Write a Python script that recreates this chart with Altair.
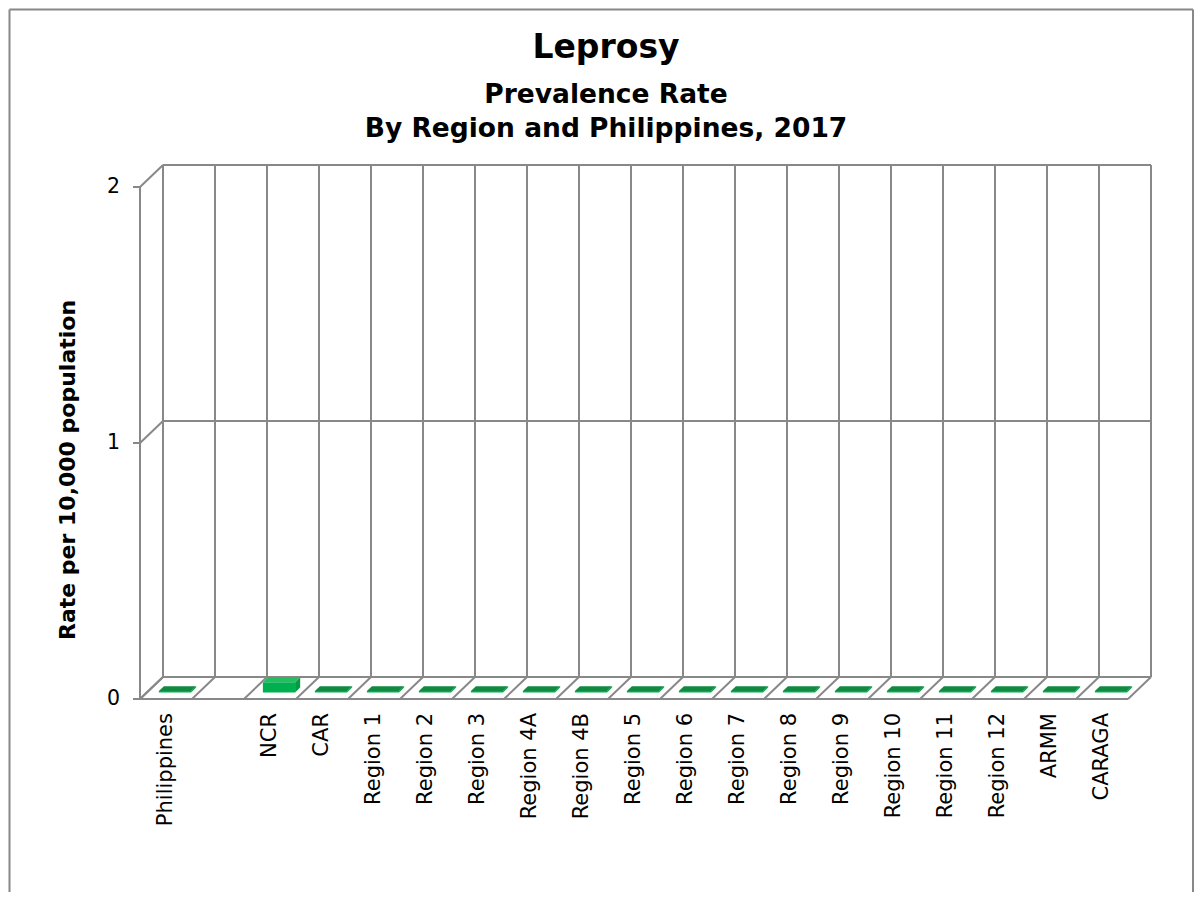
import altair as alt
import pandas as pd

# ---------------- data ----------------
categories = ["Philippines", "", "NCR", "CAR", "Region 1", "Region 2", "Region 3",
              "Region 4A", "Region 4B", "Region 5", "Region 6", "Region 7", "Region 8",
              "Region 9", "Region 10", "Region 11", "Region 12", "ARMM", "CARAGA"]
rates = [0.005, None, 0.04, 0.005, 0.005, 0.005, 0.005, 0.005, 0.005, 0.005,
         0.005, 0.005, 0.005, 0.005, 0.005, 0.005, 0.005, 0.005, 0.005]
y_ticks = [0, 1, 2]
title_lines = ["Leprosy", "Prevalence Rate", "By Region and Philippines, 2017"]
y_title = "Rate per 10,000 population"

# ---------------- geometry (3-D look) ----------------
N = len(categories)
YMAX = max(y_ticks)
CATW = 52.0          # px per category
PXU = 256.0          # px per unit of rate
DEPTH_X, DEPTH_Y = 23.0, 22.0
DX = DEPTH_X / CATW  # depth offset in category units
DY = DEPTH_Y / PXU   # depth offset in rate units
W = N * CATW + DEPTH_X
H = YMAX * PXU + DEPTH_Y
B0, B1 = 0.23, 0.85  # bar left/right inside category
F1, F2 = 0.30, 0.52  # bar front/back depth fraction

xs = alt.Scale(domain=[0, N + DX], nice=False, zero=False)
ys = alt.Scale(domain=[0, YMAX + DY], nice=False, zero=False)

GRID = "#888888"
FONT = "DejaVu Sans"

# ---------------- frame segments ----------------
segs = []
for i in range(N + 1):
    segs.append((i + DX, DY, i + DX, YMAX + DY))          # back wall verticals
    segs.append((i, 0, i + DX, DY))                        # floor diagonals
for t in y_ticks:
    segs.append((DX, t + DY, N + DX, t + DY))              # back wall gridlines
    segs.append((0, t, DX, t + DY))                        # side wall diagonals
segs.append((0, 0, 0, YMAX))                               # y axis line
segs.append((0, 0, N, 0))                                  # floor front edge
seg_df = pd.DataFrame(segs, columns=["x", "y", "x2", "y2"])

frame = alt.Chart(seg_df).mark_rule(color=GRID, strokeWidth=2).encode(
    x=alt.X("x:Q", scale=xs, axis=None),
    y=alt.Y("y:Q", scale=ys, axis=None),
    x2="x2:Q", y2="y2:Q",
)

# ---------------- bars ----------------
front_rows, top_rows, side_rows = [], [], []
for i, (c, v) in enumerate(zip(categories, rates)):
    if v is None:
        continue
    front_rows.append(dict(cat=c, v=v, x=i + B0 + F1 * DX, x2=i + B1 + F1 * DX,
                           y=F1 * DY, y2=v + F1 * DY))
    for f in (F1, F2):
        top_rows.append(dict(cat=c, v=v, y=v + f * DY, x=i + B0 + f * DX, x2=i + B1 + f * DX))
        side_rows.append(dict(cat=c, v=v, x=i + B1 + f * DX, y=f * DY, y2=v + f * DY))
front_df = pd.DataFrame(front_rows)
top_df = pd.DataFrame(top_rows)
side_df = pd.DataFrame(side_rows)

side = alt.Chart(side_df).mark_area(color="#069a44").encode(
    x=alt.X("x:Q", scale=xs, axis=None),
    y=alt.Y("y:Q", scale=ys, axis=None, stack=False),
    y2="y2:Q",
    detail="cat:N",
)
front = alt.Chart(front_df).mark_rect(color="#00b050").encode(
    x=alt.X("x:Q", scale=xs, axis=None),
    x2="x2:Q",
    y=alt.Y("y:Q", scale=ys, axis=None),
    y2="y2:Q",
)
top = alt.Chart(top_df).mark_area(orient="horizontal").encode(
    y=alt.Y("y:Q", scale=ys, axis=None),
    x=alt.X("x:Q", scale=xs, axis=None, stack=False),
    x2="x2:Q",
    detail="cat:N",
    color=alt.condition("datum.v > 0.02", alt.value("#22bf5e"), alt.value("#0f8a40")),
)

# ---------------- axis ticks and labels ----------------
tick_df = pd.DataFrame({"t": y_ticks})
ticks = alt.Chart(tick_df).mark_rule(color=GRID, strokeWidth=2).encode(
    x=alt.value(-7), x2=alt.value(0),
    y=alt.Y("t:Q", scale=ys, axis=None),
)
tick_labels = alt.Chart(tick_df).mark_text(
    font=FONT, fontSize=20.5, align="right", baseline="middle", dx=-20, color="black"
).encode(
    x=alt.value(0),
    y=alt.Y("t:Q", scale=ys, axis=None),
    text="t:Q",
)

cat_df = pd.DataFrame({"cat": categories, "pos": [i + 0.5 for i in range(N)]})
cat_labels = alt.Chart(cat_df).mark_text(
    font=FONT, fontSize=21, angle=270, align="right", baseline="middle", dx=-14, color="black"
).encode(
    x=alt.X("pos:Q", scale=xs, axis=None),
    y=alt.value(H),
    text="cat:N",
)

one = pd.DataFrame({"a": [0]})
ytitle = alt.Chart(one).mark_text(
    font=FONT, fontSize=22, fontWeight="bold", angle=270, align="center",
    baseline="alphabetic", color="black"
).encode(x=alt.value(-65), y=alt.value(305), text=alt.value(y_title))

t1 = alt.Chart(one).mark_text(font=FONT, fontSize=33, fontWeight="bold", align="center",
                              baseline="alphabetic", color="black").encode(
    x=alt.value(466), y=alt.value(-107), text=alt.value(title_lines[0]))
t2 = alt.Chart(one).mark_text(font=FONT, fontSize=26.5, fontWeight="bold", align="center",
                              baseline="alphabetic", color="black").encode(
    x=alt.value(466), y=alt.value(-62), text=alt.value(title_lines[1]))
t3 = alt.Chart(one).mark_text(font=FONT, fontSize=26.5, fontWeight="bold", align="center",
                              baseline="alphabetic", color="black").encode(
    x=alt.value(466), y=alt.value(-28), text=alt.value(title_lines[2]))

SVG_W, SVG_H = 1186, 884
PAD_L, PAD_T = 132, 157

# chart border: left, top and right edges (bottom runs off the picture)
b_left = alt.Chart(one).mark_rule(color=GRID, strokeWidth=2).encode(
    x=alt.value(-130.5), y=alt.value(-155.5), y2=alt.value(SVG_H - PAD_T + 10))
b_top = alt.Chart(one).mark_rule(color=GRID, strokeWidth=2).encode(
    x=alt.value(-130.5), x2=alt.value(SVG_W - PAD_L - 1), y=alt.value(-155.5))
b_right = alt.Chart(one).mark_rule(color=GRID, strokeWidth=2).encode(
    x=alt.value(SVG_W - PAD_L - 1), y=alt.value(-155.5), y2=alt.value(SVG_H - PAD_T + 10))

chart = alt.layer(
    b_left, b_top, b_right, frame, side, front, top, ticks, tick_labels, cat_labels,
    ytitle, t1, t2, t3
).properties(
    width=W, height=H,
    padding={"left": PAD_L, "top": PAD_T,
             "right": SVG_W - PAD_L - W, "bottom": SVG_H - PAD_T - H},
    autosize=alt.AutoSizeParams(type="none"),
    background="white",
).configure_view(stroke=None)

chart.save("out.html", embed_options={"renderer": "svg", "actions": False})
